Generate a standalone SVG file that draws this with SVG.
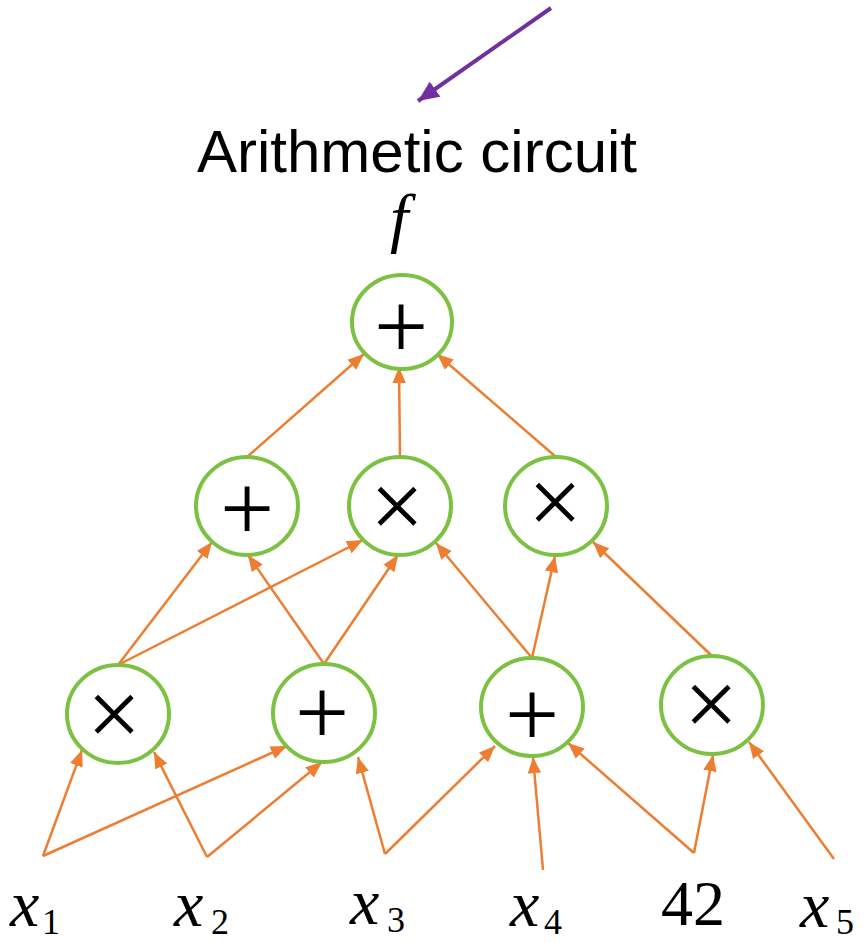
<svg xmlns="http://www.w3.org/2000/svg" width="867" height="943" viewBox="0 0 867 943">
<style>
.node{fill:#fff;stroke:#7CC142;stroke-width:4}
.op{font-family:"Liberation Serif",serif;font-size:96px;fill:#000;text-anchor:middle}
.edge{stroke:#ED7D31;stroke-width:2.5;fill:none;marker-end:url(#oa)}
.mi{font-family:"Liberation Serif",serif;font-style:italic;font-size:66px;fill:#000}
.num{font-family:"Liberation Serif",serif;font-size:64px;fill:#000}
.sub{font-family:"Liberation Serif",serif;font-size:36px;font-style:normal}
.title{font-family:"Liberation Sans",Arial,sans-serif;font-size:60px;fill:#000;text-anchor:middle}
</style>
<defs>
<marker id="oa" markerUnits="strokeWidth" markerWidth="6.5" markerHeight="5.4" refX="6.5" refY="2.7" orient="auto">
<path d="M0,0 L6.5,2.7 L0,5.4 z" fill="#ED7D31"/>
</marker>
<marker id="pa" markerUnits="strokeWidth" markerWidth="5.2" markerHeight="4.6" refX="5.2" refY="2.3" orient="auto">
<path d="M0,0 L5.2,2.3 L0,4.6 z" fill="#7030A0"/>
</marker>
</defs>
<g id="pointer">
<line x1="551" y1="8" x2="418" y2="101" stroke="#7030A0" stroke-width="4" marker-end="url(#pa)"/>
</g>
<g id="title"><text class="title" x="417" y="172">Arithmetic circuit</text></g>
<g id="f-label"><text class="mi" x="390" y="240" font-size="62">f</text></g>
<g id="connectors">
<line class="edge" x1="43" y1="856" x2="82" y2="750"/>
<line class="edge" x1="43" y1="856" x2="287" y2="746"/>
<line class="edge" x1="207" y1="857" x2="154" y2="752"/>
<line class="edge" x1="207" y1="857" x2="322" y2="762"/>
<line class="edge" x1="385" y1="854" x2="358" y2="757"/>
<line class="edge" x1="385" y1="854" x2="495" y2="746"/>
<line class="edge" x1="543" y1="870" x2="533" y2="757"/>
<line class="edge" x1="694" y1="853" x2="568" y2="743"/>
<line class="edge" x1="694" y1="853" x2="713" y2="755"/>
<line class="edge" x1="834" y1="859" x2="749" y2="742"/>
<line class="edge" x1="118" y1="665" x2="212" y2="542"/>
<line class="edge" x1="118" y1="665" x2="363" y2="540"/>
<line class="edge" x1="324" y1="664" x2="248" y2="555"/>
<line class="edge" x1="324" y1="664" x2="398" y2="555"/>
<line class="edge" x1="532" y1="658" x2="436" y2="543"/>
<line class="edge" x1="532" y1="658" x2="555" y2="556"/>
<line class="edge" x1="712" y1="656" x2="593" y2="542"/>
<line class="edge" x1="247" y1="457" x2="364" y2="354"/>
<line class="edge" x1="400" y1="457" x2="399" y2="367"/>
<line class="edge" x1="556" y1="457" x2="437" y2="354"/>
</g>
<g id="n-top"><ellipse class="node" cx="402" cy="322" rx="50" ry="47"/><text class="op" x="401" y="358">+</text></g>
<g id="n-m1"><ellipse class="node" cx="247" cy="506" rx="51" ry="49"/><text class="op" x="247" y="540">+</text></g>
<g id="n-m2"><ellipse class="node" cx="400" cy="506" rx="51" ry="49"/><text class="op" x="397" y="538">×</text></g>
<g id="n-m3"><ellipse class="node" cx="556" cy="506" rx="51" ry="49"/><text class="op" x="555" y="534">×</text></g>
<g id="n-b1"><ellipse class="node" cx="118" cy="714" rx="51" ry="49"/><text class="op" x="114" y="746">×</text></g>
<g id="n-b2"><ellipse class="node" cx="324" cy="713" rx="51" ry="49"/><text class="op" x="322" y="744">+</text></g>
<g id="n-b3"><ellipse class="node" cx="532" cy="707" rx="51" ry="49"/><text class="op" x="532" y="746">+</text></g>
<g id="n-b4"><ellipse class="node" cx="712" cy="705" rx="51" ry="49"/><text class="op" x="711" y="736">×</text></g>
<g id="in-x1"><text class="mi" x="10" y="926">x<tspan class="sub" x="42" y="934">1</tspan></text></g>
<g id="in-x2"><text class="mi" x="174" y="926">x<tspan class="sub" x="211" y="934">2</tspan></text></g>
<g id="in-x3"><text class="mi" x="350" y="924">x<tspan class="sub" x="387" y="932">3</tspan></text></g>
<g id="in-x4"><text class="mi" x="510" y="926">x<tspan class="sub" x="544" y="934">4</tspan></text></g>
<g id="in-42"><text class="num" x="661" y="925">42</text></g>
<g id="in-x5"><text class="mi" x="800" y="927">x<tspan class="sub" x="836" y="934">5</tspan></text></g>
</svg>
